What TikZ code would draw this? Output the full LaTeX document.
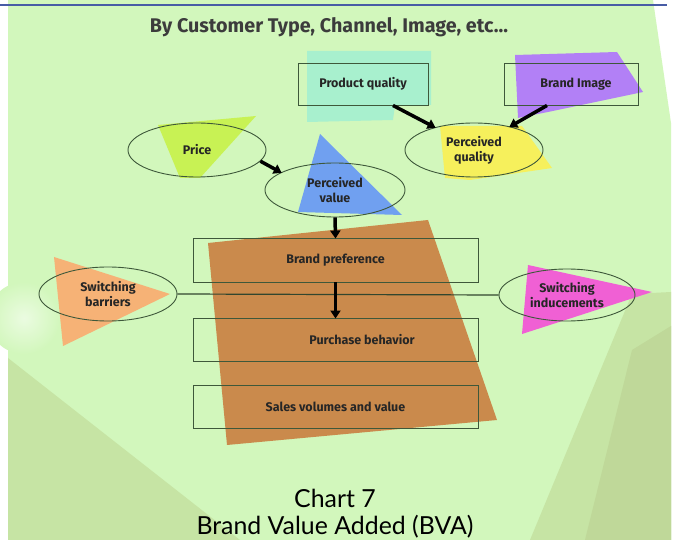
\documentclass[tikz,border=0pt]{standalone}
\usepackage{fontspec}
\setsansfont{Fira Sans}
\newfontfamily\capfont{Lato}
\usetikzlibrary{shapes.geometric,arrows.meta}
\definecolor{bgl}{RGB}{210,247,188}
\definecolor{bgm}{RGB}{198,228,164}
\definecolor{bgd}{RGB}{191,216,153}
\definecolor{topline}{RGB}{72,92,165}
\definecolor{edgec}{RGB}{62,88,58}
\definecolor{txtc}{RGB}{38,38,38}
\definecolor{cyanf}{RGB}{168,240,206}
\definecolor{purplef}{RGB}{178,128,246}
\definecolor{yellowf}{RGB}{246,240,92}
\definecolor{limef}{RGB}{200,242,84}
\definecolor{bluef}{RGB}{112,160,240}
\definecolor{orangef}{RGB}{246,178,118}
\definecolor{pinkf}{RGB}{240,96,212}
\definecolor{brownf}{RGB}{202,138,76}
\newcommand{\lblfont}{\fontsize{12.5}{15}\selectfont\sffamily\bfseries\color{txtc}}
\begin{document}
\begin{tikzpicture}[x=1pt,y=-1pt,
  box/.style={draw=edgec, line width=0.9pt, inner sep=0pt, font=\lblfont},
  oval/.style={ellipse, draw=edgec, line width=0.9pt, inner sep=0pt, font=\lblfont, align=center},
  arr/.style={line width=3.5pt, black, -{Triangle[width=10pt,length=8pt]}, shorten >=-1pt}]
\useasboundingbox (0,0) rectangle (673,540);
% background
\fill[white] (0,0) rectangle (673,540);
\fill[bgl] (8,0) -- (653,0) -- (671,123) -- (671,540) -- (8,540) -- cycle;
\shade[inner color=white!55!bgl, outer color=bgl] (24,318) circle (36);
\fill[bgm] (8,358) -- (240,540) -- (8,540) -- cycle;
\fill[bgm] (671,292) -- (632,294) -- (530,540) -- (671,540) -- cycle;
\fill[bgd] (671,326) -- (632,350) -- (585,540) -- (671,540) -- cycle;
\draw[topline, line width=2pt] (0,5) -- (667,5);
% colour patches
\fill[cyanf] (307,51) -- (431,51) -- (431,105) -- (395,105) -- (393,120) -- (307,122) -- cycle;
\fill[purplef] (515,55) -- (617,52) -- (643,92) -- (548,112) -- (518,118) -- cycle;
\fill[yellowf] (440,126) -- (522,126) -- (552,168) -- (470,180) -- (445,178) -- cycle;
\fill[limef] (158,125) -- (256,116) -- (200,178) -- (180,178) -- cycle;
\fill[bluef] (320,134) -- (402,215) -- (298,212) -- cycle;
\fill[orangef] (54,257) -- (170,294) -- (63,346) -- cycle;
\fill[pinkf] (528,265) -- (652,292) -- (522,334) -- cycle;
\fill[brownf] (208,243) -- (428,220) -- (497,420) -- (227,445) -- cycle;
% title
\node[anchor=base, inner sep=0pt] (title) at (329,33) {\resizebox{358pt}{15pt}{\sffamily\bfseries\color{txtc!90} By Customer Type, Channel, Image, etc...}};
% nodes
\node[box, minimum width=130pt, minimum height=42pt] (pq) at (363,84) {Product quality};
\node[box, minimum width=134pt, minimum height=42pt] (bi) at (571,84) {\hspace*{10pt}Brand Image};
\node[oval, minimum width=138pt, minimum height=54pt] (price) at (197,150) {Price};
\node[oval, minimum width=138pt, minimum height=54pt] (pqual) at (474,150) {Perceived\\quality};
\node[oval, minimum width=140pt, minimum height=54pt] (pv) at (335,190) {Perceived\\value};
\node[box, minimum width=285pt, minimum height=44pt] (bp) at (335.5,260) {Brand preference};
\node[box, minimum width=285pt, minimum height=43pt] (pb) at (335.5,339.5) {\hspace*{53pt}Purchase behavior};
\node[box, minimum width=285pt, minimum height=43pt] (sv) at (335.5,406.5) {Sales volumes and value};
\node[oval, minimum width=138pt, minimum height=54pt] (sb) at (108,294) {Switching\\barriers};
\node[oval, minimum width=136pt, minimum height=52pt] (si) at (567,295) {Switching\\inducements};
% connectors
\draw[edgec!80!black, line width=1.2pt] (sb.east) -- (si.west);
\draw[arr] ([xshift=30pt]pq.south) -- (pqual.150);
\draw[arr] ([xshift=-24pt]bi.south) -- (pqual.33);
\draw[arr] (price.-10) -- (pv.162);
\draw[arr] (pv.south) -- (bp.north);
\draw[arr] (bp.south) -- (pb.north);
% caption
\node[inner sep=0pt, text=black] (cap) at (335,516) {\resizebox{277pt}{!}{\capfont\fontsize{20}{20.5}\selectfont\begin{tabular}{@{}c@{}}Chart 7\\Brand Value Added (BVA)\end{tabular}}};
\end{tikzpicture}
\end{document}
